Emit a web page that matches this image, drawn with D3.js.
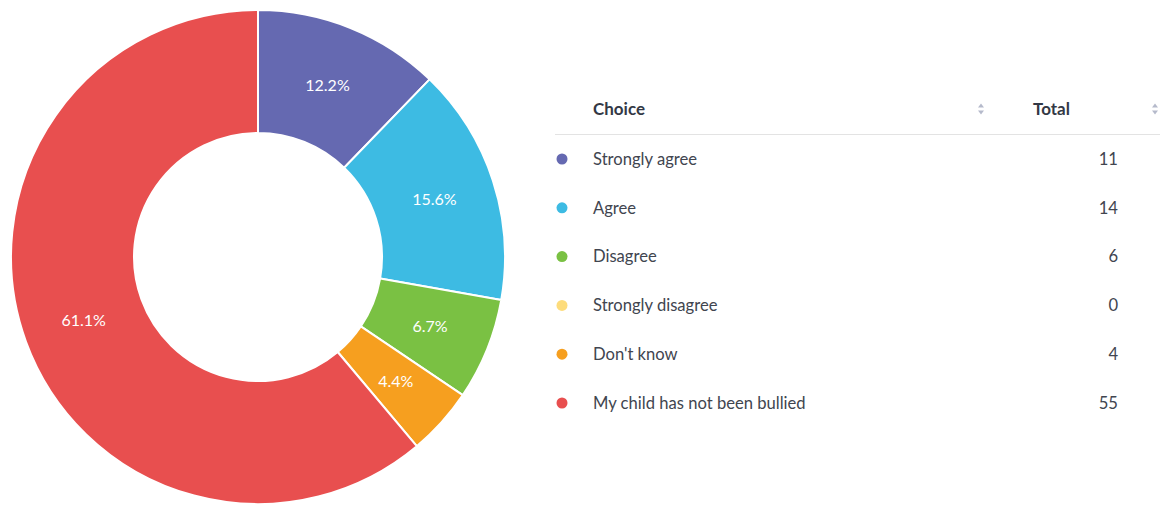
<!DOCTYPE html>
<html>
<head>
<meta charset="utf-8">
<script src="https://cdn.jsdelivr.net/npm/d3@7"></script>
<style>
  body { margin: 0; background: #fff; font-family: Lato, "Open Sans", sans-serif; }
  svg { display: block; }
</style>
</head>
<body>
<script>
// chart data
const choices = ["Strongly agree", "Agree", "Disagree", "Strongly disagree", "Don't know", "My child has not been bullied"];
const totals = [11, 14, 6, 0, 4, 55];
const colors = ["#6569B1", "#3DBBE3", "#7AC143", "#FDDC7C", "#F69F1F", "#E84F4F"];
const headers = ["Choice", "Total"];

const width = 1160, height = 505;
const svg = d3.select("body").append("svg")
    .attr("width", width)
    .attr("height", height);

// donut
const cx = 258, cy = 257;
const outerRadius = 247, innerRadius = 124;
const sum = d3.sum(totals);

const pie = d3.pie().sort(null).value(d => d.value);
const arcs = pie(choices.map((c, i) => ({ name: c, value: totals[i], color: colors[i] })));
const arc = d3.arc().innerRadius(innerRadius).outerRadius(outerRadius);

const donut = svg.append("g").attr("transform", `translate(${cx},${cy})`);
donut.selectAll("path")
    .data(arcs.filter(d => d.data.value > 0))
    .enter().append("path")
    .attr("d", arc)
    .attr("fill", d => d.data.color)
    .attr("stroke", "#fff")
    .attr("stroke-width", 2)
    .attr("stroke-linejoin", "round");

donut.selectAll("text")
    .data(arcs.filter(d => d.data.value > 0))
    .enter().append("text")
    .attr("transform", d => `translate(${arc.centroid(d)})`)
    .attr("text-anchor", "middle")
    .attr("dy", "0.35em")
    .attr("fill", "#fff")
    .style("font-size", "16px")
    .text(d => (d.data.value / sum * 100).toFixed(1) + "%");

// table
const table = svg.append("g");
const colX = [593, 1033];
const sortX = [981, 1155];
const headerY = 109;

table.selectAll(".hdr")
    .data(headers)
    .enter().append("text")
    .attr("x", (d, i) => colX[i])
    .attr("y", headerY)
    .attr("dy", "0.35em")
    .attr("fill", "#333845")
    .style("font-size", "17px")
    .style("font-weight", "bold")
    .text(d => d);

// sort arrows
sortX.forEach(x => {
    table.append("path")
        .attr("d", `M${x - 3},${headerY - 1.5} L${x + 3},${headerY - 1.5} L${x},${headerY - 5.5} Z`)
        .attr("fill", "#b5bacb");
    table.append("path")
        .attr("d", `M${x - 3},${headerY + 1.5} L${x + 3},${headerY + 1.5} L${x},${headerY + 5.5} Z`)
        .attr("fill", "#b5bacb");
});

table.append("line")
    .attr("x1", 555).attr("x2", 1160)
    .attr("y1", 134.5).attr("y2", 134.5)
    .attr("stroke", "#e3e3e3")
    .attr("stroke-width", 1);

const rowY = d3.scalePoint()
    .domain(choices)
    .range([159, 403]);

const rows = table.selectAll(".row")
    .data(choices)
    .enter().append("g")
    .attr("transform", d => `translate(0,${rowY(d)})`);

rows.append("circle")
    .attr("cx", 562)
    .attr("cy", 0)
    .attr("r", 5.5)
    .attr("fill", (d, i) => colors[i]);

rows.append("text")
    .attr("x", 593)
    .attr("dy", "0.35em")
    .attr("fill", "#41454f")
    .style("font-size", "16.6px")
    .text(d => d);

rows.append("text")
    .attr("x", 1118)
    .attr("dy", "0.35em")
    .attr("text-anchor", "end")
    .attr("fill", "#41454f")
    .style("font-size", "16.6px")
    .text((d, i) => totals[i]);
</script>
</body>
</html>
